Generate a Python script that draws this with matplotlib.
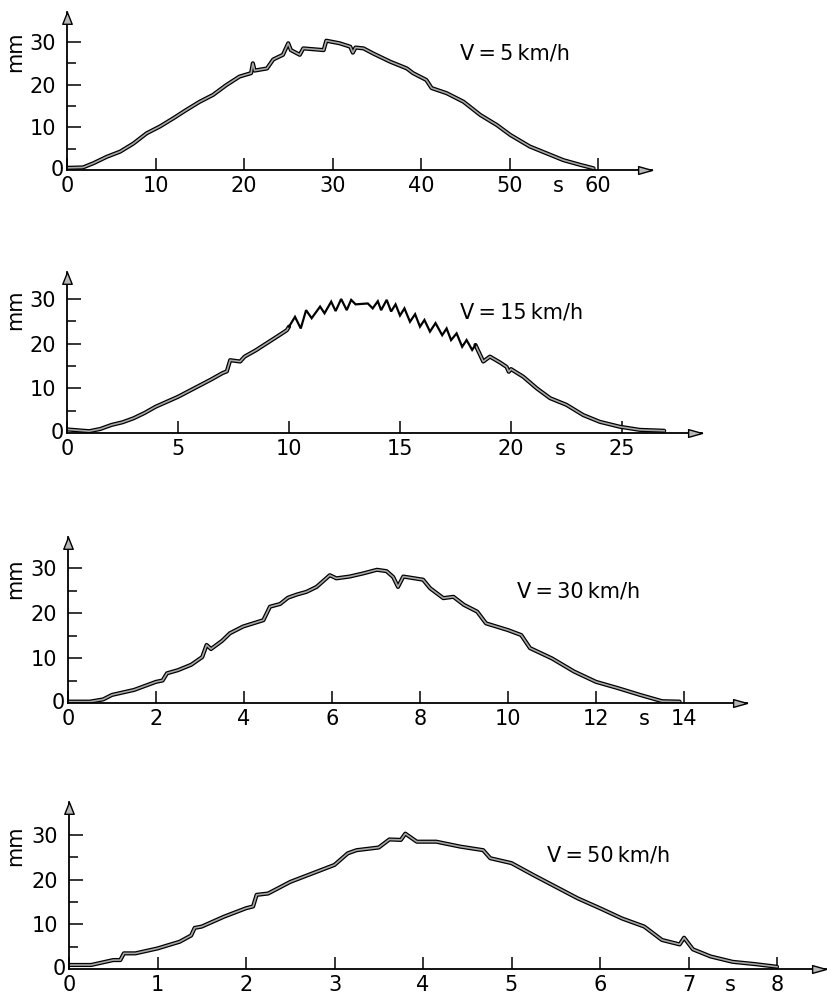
import numpy as np
import matplotlib
matplotlib.use("Agg")
import matplotlib.pyplot as plt
from matplotlib.path import Path

plt.rcParams['font.family'] = ['DejaVu Sans']

# ---------------- data ----------------
speed_labels = ["V\u2009=\u20095\u2009km/h", "V\u2009=\u200915\u2009km/h",
                "V\u2009=\u200930\u2009km/h", "V\u2009=\u200950\u2009km/h"]
x_unit = "s"
y_unit = "mm"

t1 = [0, 1.8, 3.0, 4.5, 6.0, 7.5, 9.0, 10.5, 12.0, 13.5, 15.0, 16.5, 18.0, 19.5,
      20.8, 21.0, 21.2, 22.6, 23.3, 24.4, 25.0, 25.3, 26.3, 26.7, 29.0, 29.3,
      30.8, 32.0, 32.3, 32.6, 33.5, 34.6, 36.5, 38.4, 39.1, 40.6, 41.2, 42.9,
      44.8, 46.7, 48.6, 50.1, 52.3, 54.2, 56.1, 58.0, 59.5]
y1 = [0.5, 0.6, 1.6, 3.1, 4.3, 6.2, 8.6, 10.2, 12.1, 14.1, 16.0, 17.6, 19.9, 21.9,
      22.7, 25.0, 23.3, 23.8, 25.9, 27.0, 29.7, 28.1, 27.0, 28.5, 28.1, 30.3,
      29.7, 28.9, 27.5, 28.7, 28.5, 27.3, 25.4, 23.8, 22.7, 21.1, 19.2, 18.0,
      16.0, 12.9, 10.5, 8.2, 5.5, 3.9, 2.3, 1.2, 0.4]

t2 = [0, 0.5, 1.0, 1.5, 2.0, 2.5, 3.0, 3.5, 4.0, 4.5, 5.0, 5.5, 6.0, 6.5, 7.0,
      7.2, 7.35, 7.8, 8.0, 8.5, 9.0, 9.5, 9.9, 10.0,
      10.27, 10.53, 10.77, 11.02, 11.4, 11.6, 11.9, 12.1, 12.35, 12.6, 12.8,
      13.0, 13.55, 13.77, 14.0, 14.15, 14.4, 14.6, 14.8, 15.0, 15.2, 15.45,
      15.68, 15.9, 16.1, 16.35, 16.6, 16.9, 17.1, 17.3, 17.55, 17.8, 18.0,
      18.25, 18.4,
      18.75, 19.05, 19.5, 19.8, 19.9, 20.0, 20.55, 21.16, 21.76, 22.5, 23.26,
      24.0, 24.9, 25.8, 26.9]
y2 = [0.8, 0.6, 0.4, 0.9, 1.8, 2.4, 3.3, 4.5, 5.9, 7.0, 8.1, 9.4, 10.7, 12.0, 13.4,
      13.8, 16.3, 16.0, 17.1, 18.5, 20.1, 21.7, 23.0, 23.8,
      26.0, 23.4, 27.5, 25.7, 28.3, 26.8, 29.4, 27.3, 30.0, 27.5, 29.8,
      28.8, 29.0, 27.9, 29.5, 27.5, 29.8, 27.2, 28.8, 26.3, 27.9, 24.9,
      26.6, 23.8, 25.3, 22.7, 24.6, 21.9, 23.4, 20.8, 22.3, 19.3, 20.8,
      18.6, 19.7,
      16.0, 17.1, 15.8, 14.8, 13.7, 14.3, 12.6, 10.0, 7.8, 6.3, 4.0,
      2.5, 1.4, 0.7, 0.5]
zigzag_span = (10.0, 18.4)

t3 = [0, 0.5, 0.8, 1.0, 1.5, 2.0, 2.15, 2.25, 2.5, 2.8, 3.05, 3.15, 3.25, 3.5,
      3.68, 3.98, 4.44, 4.59, 4.82, 5.0, 5.2, 5.42, 5.65, 5.95, 6.1, 6.4, 6.71,
      7.02, 7.24, 7.39, 7.5, 7.62, 8.07, 8.23, 8.53, 8.76, 9.0, 9.3, 9.5, 10.0,
      10.3, 10.5, 11.0, 11.5, 12.0, 12.5, 13.0, 13.5, 13.9]
y3 = [0.3, 0.3, 0.8, 1.8, 2.9, 4.7, 5.0, 6.6, 7.3, 8.5, 10.2, 12.9, 12.0, 13.8,
      15.5, 17.0, 18.4, 21.4, 22.0, 23.4, 24.1, 24.7, 25.8, 28.4, 27.7, 28.1, 28.8,
      29.6, 29.3, 28.0, 25.8, 28.1, 27.4, 25.5, 23.3, 23.6, 21.8, 20.3, 17.7, 16.2,
      15.1, 12.2, 9.9, 7.0, 4.7, 3.3, 1.8, 0.4, 0.3]

t4 = [0, 0.25, 0.5, 0.58, 0.62, 0.75, 1.0, 1.25, 1.38, 1.42, 1.5, 1.75, 2.0,
      2.08, 2.12, 2.25, 2.5, 2.75, 3.0, 3.15, 3.25, 3.5, 3.62, 3.75, 3.8, 3.93,
      4.15, 4.42, 4.68, 4.76, 5.0, 5.25, 5.5, 5.75, 6.0, 6.25, 6.5, 6.7, 6.9,
      6.95, 7.05, 7.25, 7.5, 7.75, 8.0]
y4 = [0.9, 0.9, 2.0, 2.0, 3.5, 3.5, 4.6, 6.1, 7.5, 9.2, 9.5, 11.7, 13.6,
      14.0, 16.6, 16.9, 19.5, 21.4, 23.3, 25.9, 26.6, 27.2, 29.0, 28.9, 30.3, 28.5,
      28.5, 27.4, 26.6, 24.8, 23.7, 21.0, 18.4, 15.8, 13.6, 11.3, 9.5, 6.5, 5.5,
      7.0, 4.4, 2.8, 1.6, 1.1, 0.5]

x_ticks = [[0, 10, 20, 30, 40, 50, 60],
           [0, 5, 10, 15, 20, 25],
           [0, 2, 4, 6, 8, 10, 12, 14],
           [0, 1, 2, 3, 4, 5, 6, 7, 8]]
y_major = [10, 20, 30]
y_minor = [5, 15, 25]

series = [(t1, y1), (t2, y2), (t3, y3), (t4, y4)]

# ---------------- layout (pixels in the 827x994 figure) ----------------
W, H = 827, 994
layout = [
    dict(L=67, ppu=8.85, R=652, B=170, ppm=4.267, T=12, s_at=55.5, lab=(44.4, 27.4)),
    dict(L=67, ppu=22.2, R=702, B=433, ppm=4.467, T=272, s_at=22.2, lab=(17.7, 26.9)),
    dict(L=68, ppu=44.0, R=747, B=703, ppm=4.5, T=537, s_at=13.1, lab=(10.2, 24.7)),
    dict(L=69, ppu=88.5, R=826, B=969, ppm=4.467, T=802, s_at=7.47, lab=(5.4, 25.5)),
]

FS = 15
fig = plt.figure(figsize=(W / 100, H / 100), dpi=100)

xarrow = Path([(0, 0), (-1, 0.28), (-1, -0.28), (0, 0)],
              [Path.MOVETO, Path.LINETO, Path.LINETO, Path.CLOSEPOLY])
yarrow = Path([(0, 0), (-0.4, -1), (0.4, -1), (0, 0)],
              [Path.MOVETO, Path.LINETO, Path.LINETO, Path.CLOSEPOLY])
ARROW_FC = '#b8b8b8'


def band(ax, t, y):
    ax.plot(t, y, color='k', lw=3.0, solid_joinstyle='round',
            solid_capstyle='round')
    ax.plot(t, y, color='#a8a8a8', lw=1.2, solid_joinstyle='round')


for i, (lay, (t, y)) in enumerate(zip(layout, series)):
    L, R, B, T = lay['L'], lay['R'], lay['B'], lay['T']
    ax = fig.add_axes([L / W, (H - B) / H, (R - L) / W, (B - T) / H])
    ax.set_xlim(0, (R - L) / lay['ppu'])
    ax.set_ylim(0, (B - T) / lay['ppm'])
    ax.patch.set_visible(False)
    for sp in ('top', 'right'):
        ax.spines[sp].set_visible(False)
    for sp in ('left', 'bottom'):
        ax.spines[sp].set_linewidth(1.3)

    ax.set_xticks(x_ticks[i])
    ax.set_xticklabels([str(v) for v in x_ticks[i]])
    ax.set_yticks(y_major)
    ax.set_yticklabels([str(v) for v in y_major])
    ax.set_yticks(y_minor, minor=True)
    ax.tick_params(axis='x', direction='in', length=8.5, width=1.1, pad=4.5,
                   labelsize=FS)
    ax.tick_params(axis='y', which='major', direction='in', length=10, width=1.1,
                   pad=8.0, labelsize=FS)
    ax.tick_params(axis='y', which='minor', direction='in', length=6.5, width=1.1)

    ax.annotate("0", xy=(0, 0), xytext=(-2.5, 0), textcoords='offset points',
                ha='right', va='center', fontsize=FS)
    ax.annotate(x_unit, xy=(lay['s_at'], 0), xytext=(0, -16),
                textcoords='offset points', ha='center', va='baseline',
                fontsize=FS)
    ax.annotate(y_unit, xy=(15, 27.6), xycoords=('figure pixels', 'data'),
                rotation=90, ha='center', va='center', fontsize=FS)
    ax.text(lay['lab'][0], lay['lab'][1], speed_labels[i], ha='left',
            va='center', fontsize=FS)

    ax.plot([1], [0], transform=ax.transAxes, marker=xarrow, ms=20,
            mfc=ARROW_FC, mec='k', mew=1.0, clip_on=False, zorder=5)
    ax.plot([0], [1], transform=ax.transAxes, marker=yarrow, ms=17,
            mfc=ARROW_FC, mec='k', mew=1.0, clip_on=False, zorder=5)

    t = np.asarray(t, float)
    y = np.asarray(y, float)
    if i == 1:
        a, b = zigzag_span
        ia = int(np.argmin(np.abs(t - a)))
        ib = int(np.argmin(np.abs(t - b)))
        band(ax, t[:ia + 1], y[:ia + 1])
        band(ax, t[ib:], y[ib:])
        ax.plot(t[ia:ib + 1], y[ia:ib + 1], color='k', lw=1.6,
                solid_joinstyle='miter')
    else:
        band(ax, t, y)

fig.savefig("out.png", dpi=100)
